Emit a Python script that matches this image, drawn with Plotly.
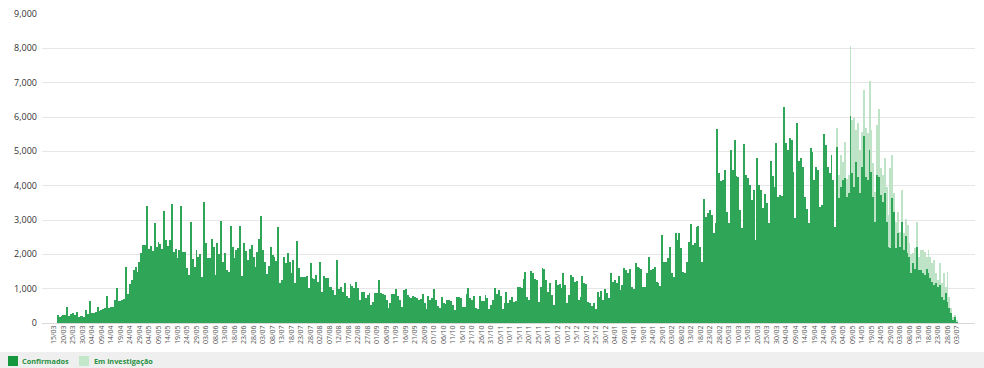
import pandas as pd
import plotly.graph_objects as go

# Daily values
inicio = "2020-03-17"

confirmados = [
    # 17/03/2020 ->
    230, 180, 200, 230, 220, 475, 200, 250, 280, 230,
    310, 180, 200, 190, 170, 380, 250, 640, 280, 300,
    330, 475, 360, 380, 420, 430, 790, 430, 460, 470,
    670, 1010, 640, 650, 660, 700, 1620, 845, 1150, 1250,
    1540, 1620, 1500, 1790, 2030, 2270, 2270, 3410, 2150, 2250,
    2100, 2900, 2200, 2370, 2300, 2150, 3270, 2420, 2250, 2420,
    3470, 2080, 2150, 1900,
    2130, 3410, 2080, 2080, 1590, 1400, 2930, 1850, 1640, 2130,
    1930, 2000, 1330, 3520, 2320, 1880, 1880, 2440, 2220, 1400,
    2340, 2000, 2970, 1770, 2050, 1540, 1500, 2830, 2220, 1880,
    2130, 2180, 2830, 1370, 2320, 2100, 1840, 2150, 2270, 1930,
    1640, 2080, 2440, 3130, 2130, 1790, 1430, 1660, 2220, 1980,
    1930, 1820, 2810, 1160, 1250, 1930, 1760, 2030, 1790, 1450,
    1840, 1160, 2400, 1590, 1330, 1330, 1350, 1370, 1010, 1740,
    1300, 1270, 1400, 1200, 1790, 910, 1370, 1300, 1300, 1060,
    1040, 960, 815, 1835, 980, 1060, 910, 1155, 785, 740,
    1135, 1080, 1010, 1200, 1010, 670, 910, 910, 720, 815,
    885, 525, 620, 865, 865, 1250, 885, 845, 815, 670,
    430, 590, 845, 845, 980, 785, 670, 475, 960, 980,
    815, 765, 720, 785, 765, 720, 670, 690, 845, 590,
    400, 785, 670, 735, 980, 670, 495, 430, 765, 590,
    550, 670, 670, 650, 525, 380,
    765, 765, 720, 455, 455, 845, 1010, 720, 670, 785,
    430, 400, 785, 650, 650, 815, 720, 400, 525, 670,
    1010, 845, 960, 785, 400, 590, 910, 590, 670, 750,
    620, 640, 1060, 1060, 1010, 1270, 1500, 765, 670, 1525,
    1465, 1270, 1250, 620, 1060, 1610, 1560, 1250, 910, 1155,
    815, 525, 1250, 1110, 1135, 1010, 1465, 1110, 590, 815,
    1400, 1330, 1200, 1230, 670, 750, 1370, 1175, 1135, 620,
    570, 495, 590, 400, 910, 765, 940, 670, 980, 885,
    720, 1465, 1200, 1250, 1175, 1370, 960, 1110, 1590, 1545,
    1450, 1565, 1060, 980, 1760, 1620, 1590, 1565, 1060, 1060,
    1450, 1930, 1545, 1565, 1620, 1200, 1155, 1080, 2560, 1790,
    1790, 1885, 2225, 1450, 1350, 2630, 2420, 2630, 2175, 1495,
    1465, 1790, 2370, 2875, 2270, 2320, 2810, 2825, 2225, 1790,
    3600, 3100, 3195, 3290, 3145, 2610, 2900, 5640, 4360, 4145,
    4165, 4455, 3240, 2900, 5040, 4455, 5330, 4280, 4245, 3290,
    2760, 5215, 4310, 4215, 4020, 3585, 3875, 2420, 4795, 4020,
    3875, 3340, 3760, 3485, 2900, 4730, 4280, 3970, 5235, 3660,
    3730, 3700, 6300,
    5235, 5040, 5380, 5330, 4410, 3050, 5815, 4730, 4800, 4555,
    3680, 3310, 2920, 5090, 4990, 4165, 4555, 4455, 3390, 3440,
    5505, 5185, 4555, 4360, 4895, 4165, 2805,
    5135, 3630, 3970, 4165, 4215, 3680, 3780, 6030, 4360, 3970,
    4700, 4265, 3780, 4555, 5450, 4265, 4165, 5040, 4410, 3680,
    2950, 4310, 4265, 3730, 3535, 3780, 2950, 2225, 2175, 3630,
    3245, 2175, 2610, 2225, 2950, 2125, 2535, 2030, 1930, 1450,
    1740, 1565, 2225, 1545, 1545, 1450, 1400, 1565, 1465, 1300,
    1205, 1105, 1155, 1060, 1105, 770, 670, 865, 620, 430,
    280, 90, 185, 40,
]

# "Em investigação" only appears in the last weeks (from 01/05/2021)
em_investigacao_recente = [
    535, 670, 925, 535, 1065, 520, 520, 2040, 1555, 1990,
    920, 1550, 1260, 1020, 1340, 1405, 1360, 2020, 1210, 970,
    875, 1460, 1960, 775, 775, 1020, 1020, 920, 2330, 1265,
    535, 775, 635, 435, 925, 485, 485, 825, 390, 550,
    290, 610, 725, 385, 580, 675, 680, 365, 660, 630,
    535, 730, 295, 190, 635, 385, 780, 195, 880, 340,
    150, 95, 45, 30,
]

# tick labels every 5 days, 15/03/2020 .. 03/07/2021
ticks_datas = pd.date_range("2020-03-15", "2021-07-03", freq="5D")
ticks_texto = [d.strftime("%d/%m") for d in ticks_datas]

series_nomes = ["Confirmados", "Em investigação"]
series_cores = ["#2fa558", "#bfe3c6"]

datas = pd.date_range(inicio, periods=len(confirmados), freq="D")
em_investigacao = [0] * (len(confirmados) - len(em_investigacao_recente)) + em_investigacao_recente

fig = go.Figure()
fig.add_bar(x=datas, y=confirmados, name=series_nomes[0],
            marker=dict(color=series_cores[0], line=dict(width=0)))
fig.add_bar(x=datas, y=em_investigacao, name=series_nomes[1],
            marker=dict(color=series_cores[1], line=dict(width=0)))

x0 = datas[0] - pd.Timedelta(hours=8.26 * 24)
x1 = datas[-1] + pd.Timedelta(hours=9.47 * 24)

# plot area: x 42..975, y 14..323 (px)
L, R, T, B = 42, 975, 14, 323
W, H = R - L, B - T
px = lambda X: (X - L) / W
py = lambda Y: (B - Y) / H

shapes = [dict(type="rect", xref="paper", yref="paper", x0=px(0), x1=px(984),
               y0=py(368), y1=py(352), fillcolor="#efefef", line=dict(width=0),
               layer="below")]
annotations = []
legenda_x = [(8, 20), (79, 92)]
legenda_cores = ["#15973d", "#c4e6ca"]
for (sx, tx), nome, cor in zip(legenda_x, series_nomes, legenda_cores):
    shapes.append(dict(type="rect", xref="paper", yref="paper",
                       x0=px(sx), x1=px(sx + 10), y0=py(366), y1=py(356),
                       fillcolor=cor, line=dict(width=0)))
    annotations.append(dict(xref="paper", yref="paper", x=px(tx), y=py(361),
                            xanchor="left", yanchor="middle", showarrow=False,
                            text=f"<b>{nome}</b>",
                            font=dict(size=7.3, color="#2a9145")))

fig.update_layout(
    width=984, height=368,
    margin=dict(l=L, r=984 - R, t=T, b=368 - B),
    barmode="stack", bargap=0.5,
    plot_bgcolor="white", paper_bgcolor="white",
    font=dict(family="Open Sans, sans-serif", color="#333"),
    showlegend=False,
    shapes=shapes, annotations=annotations,
)
fig.update_xaxes(type="date", range=[x0.isoformat(), x1.isoformat()],
                 tickmode="array", tickvals=ticks_datas, ticktext=ticks_texto,
                 tickangle=-90, tickfont=dict(size=7, color="#555"),
                 showgrid=False, ticks="", zeroline=False, showline=False,
                 automargin=False)
fig.update_yaxes(range=[0, 9000], dtick=1000, tickformat=",",
                 gridcolor="#e6e6e6", gridwidth=1, zeroline=True,
                 zerolinecolor="#d8d8d8", zerolinewidth=1,
                 tickfont=dict(size=9, color="#333"), ticks="", showline=False,
                 automargin=False, ticklabelstandoff=4)

fig.write_html("out.html", config={"displayModeBar": False},
               post_script="document.body.style.margin='0';document.body.style.overflow='hidden';")
